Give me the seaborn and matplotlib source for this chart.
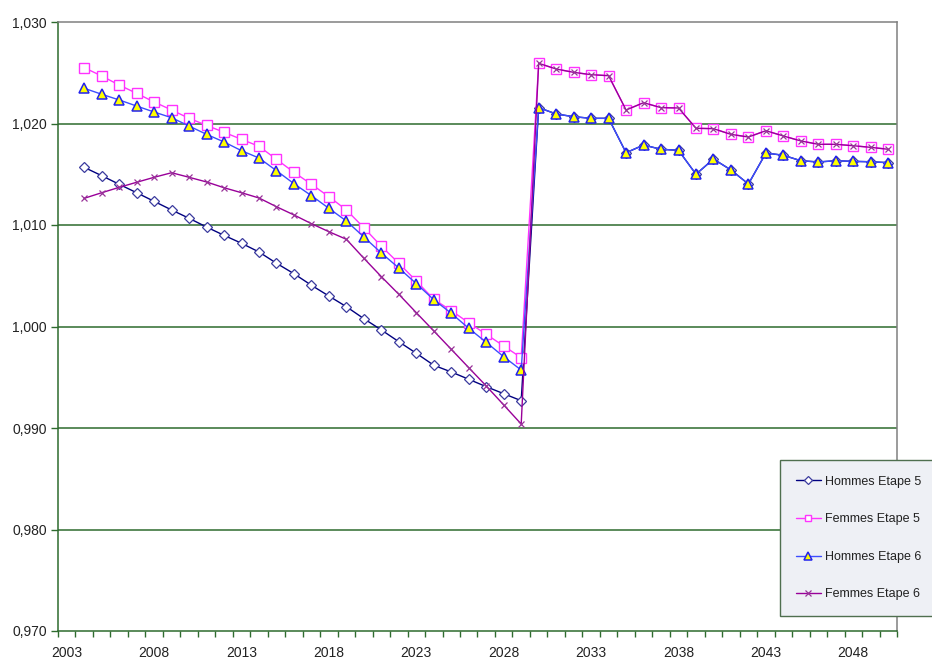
import numpy as np
import pandas as pd
import matplotlib
matplotlib.use("Agg")
import matplotlib.pyplot as plt
import seaborn as sns
from matplotlib.ticker import FixedLocator, FuncFormatter

years = list(range(2004, 2051))

hommes_e5 = [1.01568, 1.01486, 1.01401, 1.01318, 1.01233, 1.01148, 1.01066, 1.00980,
             1.00898, 1.00820, 1.00734, 1.00623, 1.00520, 1.00406, 1.00300, 1.00195,
             1.00077, 0.99966, 0.99850, 0.99736, 0.99618, 0.99552, 0.99480, 0.99407,
             0.99338, 0.99269,
             1.02156, 1.02094, 1.02067, 1.02051, 1.02051, 1.01712, 1.01788, 1.01746,
             1.01736, 1.01500, 1.01650, 1.01542, 1.01404, 1.01709, 1.01687, 1.01633,
             1.01621, 1.01633, 1.01627, 1.01623, 1.01614]

femmes_e5 = [1.02550, 1.02468, 1.02379, 1.02297, 1.02212, 1.02133, 1.02051, 1.01982,
             1.01913, 1.01844, 1.01775, 1.01647, 1.01519, 1.01401, 1.01279, 1.01148,
             1.00973, 1.00790, 1.00623, 1.00448, 1.00268, 1.00156, 1.00037, 0.99923,
             0.99808, 0.99693,
             1.02593, 1.02537, 1.02504, 1.02481, 1.02471, 1.02133, 1.02205, 1.02156,
             1.02153, 1.01953, 1.01949, 1.01893, 1.01867, 1.01929, 1.01877, 1.01828,
             1.01795, 1.01795, 1.01781, 1.01765, 1.01746]

hommes_e6 = [1.02347, 1.02288, 1.02232, 1.02172, 1.02113, 1.02057, 1.01975, 1.01893,
             1.01818, 1.01732, 1.01660, 1.01535, 1.01407, 1.01289, 1.01164, 1.01039,
             1.00882, 1.00724, 1.00576, 1.00422, 1.00264, 1.00130, 0.99982, 0.99844,
             0.99702, 0.99571,
             1.02156, 1.02094, 1.02067, 1.02051, 1.02051, 1.01712, 1.01788, 1.01746,
             1.01736, 1.01500, 1.01650, 1.01542, 1.01404, 1.01709, 1.01687, 1.01633,
             1.01621, 1.01633, 1.01627, 1.01623, 1.01614]

femmes_e6 = [1.01263, 1.01318, 1.01371, 1.01421, 1.01470, 1.01515, 1.01470, 1.01424,
             1.01367, 1.01318, 1.01266, 1.01180, 1.01099, 1.01013, 1.00934, 1.00859,
             1.00672, 1.00491, 1.00317, 1.00136, 0.99956, 0.99775, 0.99594, 0.99414,
             0.99227, 0.99039,
             1.02593, 1.02537, 1.02504, 1.02481, 1.02471, 1.02133, 1.02205, 1.02156,
             1.02153, 1.01953, 1.01949, 1.01893, 1.01867, 1.01929, 1.01877, 1.01828,
             1.01795, 1.01795, 1.01781, 1.01765, 1.01746]

series_names = ["Hommes Etape 5", "Femmes Etape 5", "Hommes Etape 6", "Femmes Etape 6"]
year_labels = list(range(2003, 2051, 5))
y_ticks = [0.970, 0.980, 0.990, 1.000, 1.010, 1.020, 1.030]

sns.set_style("white")
plt.rcParams['font.family'] = ['Liberation Sans', 'DejaVu Sans']

fig = plt.figure(figsize=(9.32, 6.6), dpi=100)
ax = fig.add_axes([58/932, 1-631/660, (897-58)/932, (631-22)/660])

grid_c = "#2E6B2E"
for yv in y_ticks[1:-1]:
    ax.axhline(yv, color=grid_c, lw=1.1, zorder=0)

styles = [
    dict(color="#000080", marker="D", markersize=5.5, markerfacecolor="white",
         markeredgecolor="#3B3B9E", markeredgewidth=0.9, lw=1.0),
    dict(color="#FF33FF", marker="s", markersize=6.5, markerfacecolor="white",
         markeredgecolor="#FF33FF", markeredgewidth=1.0, lw=1.0),
    dict(color="#3D4DFF", marker="^", markersize=7, markerfacecolor="#FFFF00",
         markeredgecolor="#2222EE", markeredgewidth=1.1, lw=1.0),
    dict(color="#990099", marker="x", markersize=5, markerfacecolor="none",
         markeredgecolor="#993399", markeredgewidth=0.9, lw=1.0),
]
data = [hommes_e5, femmes_e5, hommes_e6, femmes_e6]
for name, vals, st in zip(series_names, data, styles):
    df = pd.DataFrame({"year": years, "value": vals})
    sns.lineplot(data=df, x="year", y="value", ax=ax, label=name, **st)

ax.set_xlim(2002.5, 2050.5)
ax.set_ylim(0.970, 1.030)
ax.set_xlabel("")
ax.set_ylabel("")

# x axis: ticks at category boundaries, labels at category centres
ax.xaxis.set_major_locator(FixedLocator([y + 0.5 for y in range(2002, 2051)]))
ax.xaxis.set_major_formatter(FuncFormatter(lambda v, p: ""))
ax.xaxis.set_minor_locator(FixedLocator(year_labels))
ax.xaxis.set_minor_formatter(FuncFormatter(lambda v, p: f"{int(round(v))}"))
ax.tick_params(axis="x", which="major", direction="out", length=4, width=1,
               color=grid_c, bottom=True)
ax.tick_params(axis="x", which="minor", length=0, pad=11, labelsize=10,
               labelcolor="#222222", bottom=True)

ax.yaxis.set_major_locator(FixedLocator(y_ticks))
ax.yaxis.set_major_formatter(FuncFormatter(lambda v, p: f"{v:.3f}".replace(".", ",")))
ax.tick_params(axis="y", direction="out", length=5, width=1, color=grid_c,
               labelsize=10, labelcolor="#222222", pad=3, left=True)

for s in ["left", "bottom"]:
    ax.spines[s].set_color(grid_c)
    ax.spines[s].set_linewidth(1.1)
for s in ["top", "right"]:
    ax.spines[s].set_color("#808080")
    ax.spines[s].set_linewidth(1.1)

leg = ax.legend(loc="upper left", bbox_to_anchor=(780/932, 1-460/660),
                bbox_transform=fig.transFigure, borderaxespad=0, fontsize=9,
                frameon=True, fancybox=False, labelspacing=2.05, handlelength=2.0,
                handletextpad=0.35, borderpad=1.25, markerscale=0.75)
for t in leg.get_texts():
    t.set_color("#222222")
frame = leg.get_frame()
frame.set_facecolor("#EEF0F5")
frame.set_edgecolor("#4F6F4F")
frame.set_linewidth(1.0)
frame.set_alpha(1)

fig.savefig("out.png", dpi=100)
